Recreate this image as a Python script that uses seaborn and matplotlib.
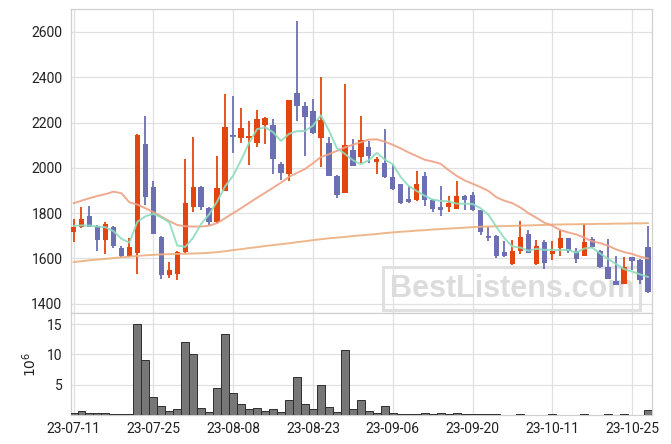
import matplotlib
matplotlib.use('Agg')
import matplotlib.pyplot as plt
import numpy as np
import pandas as pd
import seaborn as sns
from matplotlib.patches import Rectangle

# trading days (KRX calendar)
holidays = ['2023-08-15', '2023-09-28', '2023-09-29', '2023-10-02', '2023-10-03', '2023-10-09']
dates = pd.bdate_range('2023-07-11', '2023-10-27', freq='C', holidays=holidays)

opens = [1719, 1738, 1788, 1744, 1682, 1740, 1646, 1609, 1622, 2106,
         1916, 1694, 1525, 1531, 1628, 1829, 1916, 1824, 1759, 1900,
         2146, 2134, 2132, 2109, 2188, 2188, 2016, 1972, 2330, 2272,
         2252, 2131, 2109, 1966, 1891, 2079, 2050, 2091, 2028, 2022,
         1959, 1929, 1862, 1856, 1965, 1859, 1828, 1829, 1820, 1877,
         1881, 1812, 1699, 1700, 1629, 1575, 1631, 1709, 1575, 1674,
         1619, 1646, 1690, 1634, 1613, 1685, 1634, 1562, 1501, 1488,
         1606, 1594, 1650]
closes = [1740, 1775, 1740, 1682, 1753, 1653, 1609, 1651, 2146, 1871,
          1710, 1525, 1550, 1627, 1844, 1916, 1829, 1759, 1912, 2181,
          2142, 2177, 2140, 2215, 2221, 2038, 1979, 2299, 2271, 2226,
          2153, 2212, 1966, 1879, 2102, 2010, 2124, 2054, 2038, 1959,
          1906, 1844, 1851, 1929, 1856, 1820, 1812, 1843, 1877, 1860,
          1812, 1719, 1695, 1609, 1609, 1631, 1694, 1626, 1657, 1580,
          1632, 1690, 1631, 1597, 1672, 1650, 1561, 1510, 1484, 1562,
          1591, 1503, 1450]
highs = [1773, 1829, 1832, 1746, 1763, 1742, 1656, 1690, 2150, 2229,
         1943, 1698, 1585, 1632, 2040, 2135, 1918, 1826, 2052, 2327,
         2318, 2263, 2207, 2256, 2225, 2216, 2028, 2300, 2649, 2290,
         2303, 2400, 2135, 1968, 2371, 2127, 2229, 2119, 2047, 2171,
         2013, 1931, 1918, 1984, 1981, 1861, 1918, 1874, 1943, 1880,
         1893, 1814, 1738, 1702, 1679, 1682, 1767, 1726, 1682, 1680,
         1675, 1726, 1692, 1646, 1752, 1697, 1636, 1685, 1609, 1606,
         1608, 1596, 1745]
lows = [1673, 1735, 1738, 1631, 1619, 1645, 1607, 1607, 1531, 1837,
        1708, 1509, 1513, 1506, 1626, 1807, 1812, 1749, 1757, 1898,
        2065, 2109, 2013, 2094, 2104, 1972, 1947, 1943, 2207, 2053,
        2150, 2003, 1964, 1869, 1889, 2008, 2021, 2021, 1974, 1957,
        1904, 1842, 1844, 1854, 1832, 1803, 1786, 1807, 1818, 1812,
        1810, 1704, 1675, 1601, 1607, 1573, 1621, 1624, 1573, 1554,
        1594, 1609, 1625, 1580, 1611, 1648, 1559, 1508, 1482, 1486,
        1550, 1488, 1448]
# volume in millions of shares
volume = [0.2, 0.6, 0.2, 0.2, 0.2, 0.05, 0.05, 0.05, 15.06, 9.12,
          2.86, 1.37, 0.6, 0.88, 12.09, 10.0, 1.04, 0.44, 4.5, 13.4,
          3.52, 1.7, 0.93, 1.04, 0.6, 0.88, 0.44, 2.36, 6.32, 1.7,
          0.93, 5.0, 1.21, 0.44, 10.77, 0.93, 2.42, 0.6, 0.22, 1.37,
          0.22, 0.16, 0.05, 0.05, 0.22, 0.05, 0.22, 0.05, 0.22, 0.1,
          0.1, 0.1, 0.1, 0.1, 0.02, 0.02, 0.1, 0.02, 0.02, 0.02,
          0.1, 0.02, 0.02, 0.02, 0.1, 0.02, 0.02, 0.1, 0.02, 0.1,
          0.02, 0.02, 0.77]
ma5 = [1744, 1746, 1745, 1741, 1738, 1721, 1687, 1670, 1762, 1786,
       1797, 1781, 1760, 1657, 1651, 1692, 1753, 1795, 1852, 1919,
       1965, 2034, 2110, 2171, 2179, 2158, 2119, 2150, 2162, 2163,
       2186, 2232, 2166, 2087, 2062, 2034, 2016, 2034, 2066, 2037,
       2016, 1960, 1920, 1898, 1877, 1860, 1854, 1852, 1842, 1842,
       1841, 1822, 1793, 1739, 1689, 1653, 1648, 1634, 1643, 1638,
       1638, 1637, 1638, 1626, 1644, 1648, 1622, 1598, 1575, 1553,
       1542, 1530, 1518]
ma20 = [1844, 1855, 1866, 1876, 1884, 1895, 1888, 1848, 1838, 1822,
        1805, 1785, 1765, 1748, 1742, 1741, 1741, 1745, 1756, 1778,
        1800, 1822, 1845, 1868, 1890, 1912, 1935, 1960, 1978, 1995,
        2020, 2048, 2060, 2075, 2090, 2102, 2113, 2125, 2126, 2116,
        2102, 2086, 2068, 2052, 2036, 2028, 2018, 1990, 1965, 1945,
        1930, 1915, 1898, 1870, 1855, 1844, 1825, 1800, 1780, 1758,
        1745, 1725, 1715, 1706, 1692, 1676, 1668, 1656, 1640, 1628,
        1620, 1608, 1600]
ma60 = [1584, 1588, 1592, 1595, 1598, 1602, 1605, 1608, 1611, 1614,
        1616, 1618, 1619, 1620, 1621, 1622, 1623, 1625, 1628, 1632,
        1637, 1641, 1646, 1650, 1655, 1659, 1663, 1667, 1672, 1676,
        1681, 1685, 1689, 1692, 1695, 1699, 1702, 1705, 1708, 1712,
        1715, 1718, 1720, 1723, 1725, 1728, 1730, 1732, 1734, 1736,
        1738, 1740, 1741, 1742, 1743, 1744, 1745, 1746, 1747, 1748,
        1750, 1750, 1751, 1751, 1752, 1752, 1753, 1753, 1754, 1754,
        1755, 1755, 1756]

up_color = '#e4450f'
down_color = '#6c70b2'

sns.set_theme(style='whitegrid', rc={
    'grid.color': '#e0e0e0', 'grid.linewidth': 0.9,
    'axes.edgecolor': '#d0d0d0', 'axes.linewidth': 0.9,
    'xtick.color': '#222222', 'ytick.color': '#222222',
    'axes.labelcolor': '#222222',
})
plt.rcParams['font.family'] = ['Roboto', 'DejaVu Sans']

df = pd.DataFrame({'idx': np.arange(len(dates)), 'open': opens, 'close': closes,
                   'high': highs, 'low': lows, 'vol': volume,
                   'ma5': ma5, 'ma20': ma20, 'ma60': ma60})
df['up'] = df['close'] >= df['open']
colors = np.where(df['up'], up_color, down_color)

fig = plt.figure(figsize=(6.71, 4.44), dpi=100)
ax = fig.add_axes([0.1054, 0.2944, 0.8658, 0.6846])
ax_vol = fig.add_axes([0.1054, 0.066, 0.8658, 0.2284], sharex=ax)

# candles
ax.vlines(df['idx'], df['low'], df['high'], colors=colors, linewidth=1.3, zorder=3)
ax.bar(df['idx'], df['close'] - df['open'], bottom=df['open'], width=0.68,
       color=colors, linewidth=0, zorder=3)
# doji crosses
doji = (df['close'] - df['open']).abs() < 6
ax.hlines(df.loc[doji, 'close'], df.loc[doji, 'idx'] - 0.34, df.loc[doji, 'idx'] + 0.34,
          colors=colors[doji], linewidth=1.2, zorder=3)

sns.lineplot(data=df, x='idx', y='ma60', ax=ax, color='#ecb07e', linewidth=1.4, alpha=0.9, zorder=4)
sns.lineplot(data=df, x='idx', y='ma20', ax=ax, color='#eea183', linewidth=1.4, alpha=0.9, zorder=4)
sns.lineplot(data=df, x='idx', y='ma5', ax=ax, color='#8edcbd', linewidth=1.4, alpha=0.9, zorder=4)

ax.set_ylim(1358, 2700)
ax.set_yticks([1400, 1600, 1800, 2000, 2200, 2400, 2600])
ax.set_xlim(-0.35, 72.45)
ax.set_xlabel('')
ax.set_ylabel('')
ax.tick_params(axis='x', labelbottom=False, length=0)
ax.tick_params(axis='y', labelsize=10, pad=6, length=0)

# watermark
ax.text(512 / 671, 1 - 289 / 444, 'BestListens.com', transform=fig.transFigure,
        ha='center', va='center', fontsize=22, fontweight='bold',
        family=['Liberation Sans', 'DejaVu Sans'], color='#dcdcdc', zorder=1)
ax.add_patch(Rectangle((383 / 671, 1 - 310 / 444), 257 / 671, 43 / 444,
                       transform=fig.transFigure, fill=False, edgecolor='#e0e0e0',
                       linewidth=2.2, zorder=1, clip_on=False))

# volume
ax_vol.bar(df['idx'], df['vol'], width=1.0, color='#777777', edgecolor='#2e2e2e',
           linewidth=0.7, zorder=3)
ax_vol.set_ylim(0, 16.8)
ax_vol.set_yticks([5, 10, 15])
ax_vol.set_ylabel(r'$10^6$', fontsize=10)
ax_vol.yaxis.set_label_coords(-0.055, 0.5)
ticks = list(range(0, len(dates), 10))
ax_vol.set_xticks(ticks)
ax_vol.set_xticklabels([dates[i].strftime('%y-%m-%d') for i in ticks])
ax_vol.tick_params(axis='both', labelsize=10, length=0)
ax_vol.tick_params(axis='x', pad=5)
ax_vol.tick_params(axis='y', pad=6)
ax_vol.set_xlabel('')

fig.savefig('out.png', dpi=100)
